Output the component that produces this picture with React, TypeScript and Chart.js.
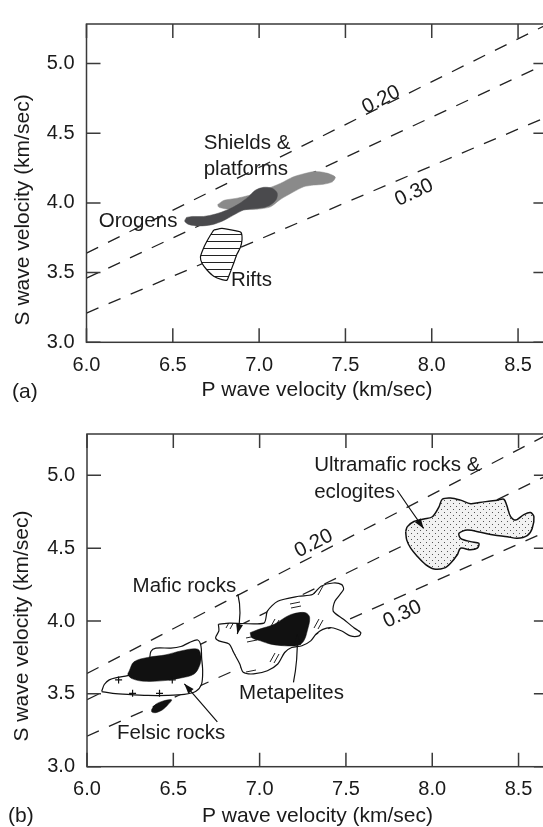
import React, { useEffect, useRef } from 'react';
import { Chart, registerables } from 'chart.js';

Chart.register(...registerables);

// ---------- axes ----------
const xTickValues = [6.0, 6.5, 7.0, 7.5, 8.0, 8.5];
const yTickValues = [3.0, 3.5, 4.0, 4.5, 5.0];
const xMin = 6.0;
const xMax = 8.67;
const yMin = 3.0;
const yMax = 5.284;
const xTitle = 'P wave velocity (km/sec)';
const yTitle = 'S wave velocity (km/sec)';

// ---------- constant Poisson's ratio lines (Vp, Vs) ----------
const poisson020: number[][] = [[6.0, 3.64], [8.7, 5.3]];
const poisson025: number[][] = [[6.0, 3.46], [8.7, 5.02]];
const poisson030: number[][] = [[6.0, 3.21], [8.7, 4.635]];

// ---------- panel (a) regions ----------
const shieldsPlatforms: number[][] = [
  [6.76, 3.988], [6.795, 4.018], [6.872, 4.034], [6.949, 4.057], [7.046, 4.102], [7.123, 4.14],
  [7.2, 4.188], [7.277, 4.215], [7.325, 4.226], [7.393, 4.214], [7.441, 4.186], [7.425, 4.152],
  [7.373, 4.134], [7.315, 4.128], [7.258, 4.116], [7.2, 4.08], [7.123, 4.025], [7.065, 3.972],
  [6.988, 3.955], [6.891, 3.952], [6.814, 3.956], [6.766, 3.97],
];
const orogens: number[][] = [
  [6.579, 3.896], [6.612, 3.903], [6.679, 3.903], [6.747, 3.92], [6.814, 3.949], [6.881, 3.992],
  [6.939, 4.045], [6.978, 4.091], [7.026, 4.112], [7.075, 4.105], [7.104, 4.073], [7.1, 4.027],
  [7.065, 3.986], [7.017, 3.965], [6.959, 3.958], [6.91, 3.949], [6.852, 3.913], [6.795, 3.874],
  [6.727, 3.844], [6.65, 3.835], [6.592, 3.846], [6.569, 3.869],
];
const rifts: number[][] = [
  [6.737, 3.805], [6.785, 3.817], [6.872, 3.798], [6.895, 3.789], [6.901, 3.736], [6.891, 3.679],
  [6.872, 3.633], [6.852, 3.565], [6.824, 3.474], [6.814, 3.446], [6.785, 3.45], [6.737, 3.474],
  [6.698, 3.519], [6.67, 3.565], [6.66, 3.611], [6.679, 3.679], [6.708, 3.748], [6.733, 3.798],
];

// ---------- panel (b) regions ----------
const felsicOutline: number[][] = [
  [6.085, 3.516], [6.1, 3.564], [6.129, 3.596], [6.178, 3.613], [6.236, 3.625], [6.284, 3.648],
  [6.341, 3.686], [6.361, 3.727], [6.37, 3.791], [6.399, 3.814], [6.486, 3.814], [6.544, 3.825],
  [6.592, 3.852], [6.641, 3.87], [6.66, 3.83], [6.664, 3.75], [6.67, 3.659], [6.664, 3.569],
  [6.631, 3.518], [6.563, 3.496], [6.467, 3.489], [6.351, 3.489], [6.236, 3.496], [6.149, 3.504],
];
const felsicCore: number[][] = [
  [6.245, 3.659], [6.272, 3.72], [6.351, 3.75], [6.457, 3.768], [6.544, 3.795], [6.641, 3.807],
  [6.66, 3.761], [6.654, 3.7], [6.621, 3.637], [6.544, 3.609], [6.447, 3.591], [6.332, 3.586],
  [6.264, 3.603], [6.237, 3.632],
];
const felsicPatch: number[][] = [
  [6.374, 3.391], [6.394, 3.425], [6.438, 3.45], [6.49, 3.459], [6.47, 3.427], [6.438, 3.391],
  [6.399, 3.371], [6.376, 3.375],
];
const felsicCrosses: number[][] = [[6.183, 3.596], [6.264, 3.504], [6.42, 3.504], [6.494, 3.596]];
const maficOutline: number[][] = [
  [6.761, 3.978], [6.825, 3.986], [7.025, 3.986], [7.045, 4.068], [7.105, 4.136], [7.226, 4.17],
  [7.306, 4.182], [7.356, 4.239], [7.426, 4.261], [7.476, 4.25], [7.486, 4.216], [7.436, 4.136],
  [7.426, 4.068], [7.486, 4.012], [7.546, 3.954], [7.586, 3.92], [7.576, 3.898], [7.526, 3.898],
  [7.476, 3.932], [7.416, 3.954], [7.366, 3.943], [7.326, 3.909], [7.296, 3.864], [7.245, 3.83],
  [7.186, 3.818], [7.145, 3.784], [7.105, 3.705], [7.045, 3.659], [6.965, 3.637], [6.905, 3.648],
  [6.885, 3.705], [6.865, 3.75], [6.845, 3.795], [6.825, 3.841], [6.764, 3.864], [6.745, 3.886],
  [6.764, 3.932],
];
const metapelites: number[][] = [
  [6.945, 3.92], [6.995, 3.943], [7.085, 3.978], [7.145, 4.023], [7.196, 4.05], [7.266, 4.057],
  [7.29, 4.023], [7.276, 3.932], [7.256, 3.864], [7.226, 3.834], [7.145, 3.83], [7.065, 3.841],
  [7.005, 3.864], [6.955, 3.886],
];
const ultramafic: number[][] = [
  [7.846, 4.614], [7.856, 4.648], [7.894, 4.683], [7.952, 4.7], [8.001, 4.716], [8.039, 4.784],
  [8.058, 4.836], [8.106, 4.845], [8.164, 4.83], [8.222, 4.806], [8.299, 4.818], [8.377, 4.83],
  [8.415, 4.836], [8.431, 4.796], [8.454, 4.716], [8.483, 4.693], [8.531, 4.731], [8.569, 4.745],
  [8.589, 4.716], [8.579, 4.636], [8.55, 4.586], [8.492, 4.568], [8.435, 4.579], [8.357, 4.591],
  [8.28, 4.609], [8.203, 4.625], [8.155, 4.602], [8.164, 4.568], [8.222, 4.545], [8.27, 4.534],
  [8.261, 4.5], [8.222, 4.489], [8.164, 4.5], [8.145, 4.455], [8.106, 4.397], [8.068, 4.363],
  [8.01, 4.357], [7.962, 4.387], [7.914, 4.443], [7.875, 4.5], [7.852, 4.557],
];

// ---------- annotations (data coordinates) ----------
const panelALabels = [
  { text: 'Shields &', x: 6.679, y: 4.43 },
  { text: 'platforms', x: 6.679, y: 4.241 },
  { text: 'Orogens', x: 6.071, y: 3.867 },
  { text: 'Rifts', x: 6.837, y: 3.441 },
];
const panelARatios = [
  { text: '0.20', x: 7.707, y: 4.739, angle: -27 },
  { text: '0.30', x: 7.898, y: 4.073, angle: -25 },
];
const panelBLabels = [
  { text: 'Ultramafic rocks &', x: 7.316, y: 5.07 },
  { text: 'eclogites', x: 7.316, y: 4.884 },
  { text: 'Mafic rocks', x: 6.264, y: 4.239 },
  { text: 'Metapelites', x: 6.881, y: 3.502 },
  { text: 'Felsic rocks', x: 6.174, y: 3.23 },
];
const panelBRatios = [
  { text: '0.20', x: 7.314, y: 4.532, angle: -27 },
  { text: '0.30', x: 7.827, y: 4.046, angle: -25 },
];
const panelBArrows = [
  { from: [7.797, 4.898], via: [7.87, 4.77], to: [7.95, 4.636] },
  { from: [6.874, 4.184], via: [6.9, 4.06], to: [6.871, 3.911] },
  { from: [7.196, 3.579], via: [7.222, 3.73], to: [7.218, 3.905] },
  { from: [6.755, 3.307], via: [6.66, 3.44], to: [6.564, 3.569] },
];

const FONT = '"Liberation Sans", Arial, Helvetica, sans-serif';
const TEXT = '#1a1a1a';
const TICK = 14;

const pts = (a: number[][], close = false) => {
  const p = a.map(([x, y]) => ({ x, y }));
  if (close) p.push({ ...p[0] });
  return p;
};

function makePattern(w: number, h: number, draw: (c: CanvasRenderingContext2D) => void) {
  const cv = document.createElement('canvas');
  cv.width = w;
  cv.height = h;
  const c = cv.getContext('2d')!;
  draw(c);
  return c.createPattern(cv, 'repeat')!;
}

function dashedSets() {
  return [poisson020, poisson025, poisson030].map((l) => ({
    data: pts(l),
    borderColor: '#222',
    borderWidth: 1.3,
    borderDash: [13, 11],
    pointRadius: 0,
    fill: false,
    tension: 0,
    order: 10,
  }));
}

function region(a: number[][], fillStyle: any, border: string, bw: number, order: number, tension = 0.35) {
  return {
    data: pts(a, true),
    backgroundColor: fillStyle,
    borderColor: border,
    borderWidth: bw,
    pointRadius: 0,
    fill: 'shape',
    tension,
    order,
  };
}

function overlay(opts: any) {
  return {
    id: 'overlay',
    afterDraw(chart: any) {
      const { ctx, chartArea: a, scales } = chart;
      const xs = scales.x;
      const ys = scales.y;
      const X = (v: number) => xs.getPixelForValue(v);
      const Y = (v: number) => ys.getPixelForValue(v);
      ctx.save();
      // frame and inward ticks
      ctx.strokeStyle = '#3a3a3a';
      ctx.lineWidth = 1.5;
      ctx.strokeRect(a.left, a.top, a.right - a.left, a.bottom - a.top);
      ctx.beginPath();
      for (const v of xTickValues) {
        const px = X(v);
        ctx.moveTo(px, a.bottom);
        ctx.lineTo(px, a.bottom - TICK);
        ctx.moveTo(px, a.top);
        ctx.lineTo(px, a.top + TICK);
      }
      for (const v of yTickValues) {
        const py = Y(v);
        ctx.moveTo(a.left, py);
        ctx.lineTo(a.left + TICK, py);
        ctx.moveTo(a.right, py);
        ctx.lineTo(a.right - TICK, py);
      }
      ctx.stroke();

      // arrows
      ctx.strokeStyle = '#111';
      ctx.fillStyle = '#111';
      ctx.lineWidth = 1.2;
      for (const ar of opts.arrows || []) {
        const fx = X(ar.from[0]), fy = Y(ar.from[1]);
        const cx = X(ar.via[0]), cy = Y(ar.via[1]);
        const tx = X(ar.to[0]), ty = Y(ar.to[1]);
        ctx.beginPath();
        ctx.moveTo(fx, fy);
        ctx.quadraticCurveTo(cx, cy, tx, ty);
        ctx.stroke();
        const ang = Math.atan2(ty - cy, tx - cx);
        const L = 10, W = 3.5;
        ctx.beginPath();
        ctx.moveTo(tx, ty);
        ctx.lineTo(tx - L * Math.cos(ang) + W * Math.sin(ang), ty - L * Math.sin(ang) - W * Math.cos(ang));
        ctx.lineTo(tx - L * Math.cos(ang) - W * Math.sin(ang), ty - L * Math.sin(ang) + W * Math.cos(ang));
        ctx.closePath();
        ctx.fill();
      }

      // labels
      ctx.fillStyle = TEXT;
      ctx.font = `20.5px ${FONT}`;
      ctx.textBaseline = 'middle';
      ctx.textAlign = 'left';
      for (const l of opts.labels) ctx.fillText(l.text, X(l.x), Y(l.y));
      for (const r of opts.ratios) {
        ctx.save();
        ctx.translate(X(r.x), Y(r.y));
        ctx.rotate((r.angle * Math.PI) / 180);
        ctx.textAlign = 'center';
        ctx.fillText(r.text, 0, 0);
        ctx.restore();
      }
      // y title
      ctx.font = `21px ${FONT}`;
      ctx.save();
      ctx.translate(opts.yTitleX, Y(opts.yTitleAt));
      ctx.rotate(-Math.PI / 2);
      ctx.textAlign = 'center';
      ctx.fillText(yTitle, 0, 0);
      ctx.restore();
      // panel letter
      ctx.textAlign = 'left';
      ctx.fillText(opts.letter, opts.letterX, opts.letterY);
      ctx.restore();
    },
  };
}

function makeConfig(p: any) {
  return {
    type: 'line',
    data: { datasets: p.datasets },
    options: {
      animation: false,
      responsive: false,
      events: [],
      layout: { padding: { left: 0, top: p.top, right: p.right, bottom: 0 } },
      plugins: { legend: { display: false }, tooltip: { enabled: false } },
      scales: {
        x: {
          type: 'linear',
          min: xMin,
          max: xMax,
          grid: { display: false, drawTicks: false },
          border: { display: false },
          ticks: {
            color: TEXT,
            padding: 11,
            font: { family: FONT, size: 20 },
            maxRotation: 0,
            autoSkip: false,
            callback: (v: any) => Number(v).toFixed(1),
          },
          title: {
            display: true,
            text: xTitle,
            color: TEXT,
            font: { family: FONT, size: 21, lineHeight: 1 },
            padding: { top: 0, bottom: p.titlePad },
          },
          afterBuildTicks: (s: any) => {
            s.ticks = xTickValues.map((value) => ({ value }));
          },
          afterFit: (s: any) => {
            s.height = p.xHeight;
          },
        },
        y: {
          type: 'linear',
          min: yMin,
          max: yMax,
          grid: { display: false, drawTicks: false },
          border: { display: false },
          ticks: {
            color: TEXT,
            padding: 12,
            font: { family: FONT, size: 20 },
            autoSkip: false,
            callback: (v: any) => Number(v).toFixed(1),
          },
          afterBuildTicks: (s: any) => {
            s.ticks = yTickValues.map((value) => ({ value }));
          },
          afterFit: (s: any) => {
            s.width = p.yWidth;
          },
        },
      },
    },
    plugins: [overlay(p.overlay)],
  } as any;
}

export default function App() {
  const refA = useRef<HTMLCanvasElement>(null);
  const refB = useRef<HTMLCanvasElement>(null);

  useEffect(() => {
    const hatch = makePattern(12, 7, (c) => {
      c.fillStyle = '#fff';
      c.fillRect(0, 0, 12, 7);
      c.strokeStyle = '#222';
      c.lineWidth = 1;
      c.beginPath();
      c.moveTo(0, 3.5);
      c.lineTo(12, 3.5);
      c.stroke();
    });
    const dots = makePattern(6, 6, (c) => {
      c.fillStyle = '#f2f2f2';
      c.fillRect(0, 0, 6, 6);
      c.fillStyle = '#555';
      c.fillRect(0, 0, 1, 1);
      c.fillRect(3, 3, 1, 1);
    });
    const dashes = makePattern(44, 34, (c) => {
      c.fillStyle = '#fff';
      c.fillRect(0, 0, 44, 34);
      c.strokeStyle = '#222';
      c.lineWidth = 1;
      c.beginPath();
      c.moveTo(6, 14); c.lineTo(11, 5);
      c.moveTo(10, 15); c.lineTo(15, 6);
      c.moveTo(26, 24); c.lineTo(36, 22);
      c.moveTo(27, 28); c.lineTo(37, 26);
      c.stroke();
    });

    const chartA = new Chart(
      refA.current!,
      makeConfig({
        top: 9.5,
        right: 560 - 547.4,
        xHeight: 410 - 342.3,
        yWidth: 86.5,
        titlePad: 8.8,
        datasets: [
          ...dashedSets(),
          region(shieldsPlatforms, '#8a8a8a', '#8a8a8a', 0.5, 6, 0.25),
          region(orogens, '#4a4a4d', '#4a4a4d', 0.5, 5, 0.3),
          region(rifts, hatch, '#111', 1.2, 5, 0.2),
        ],
        overlay: {
          labels: panelALabels,
          ratios: panelARatios,
          arrows: [],
          yTitleX: 23,
          yTitleAt: 3.95,
          letter: '(a)',
          letterX: 12,
          letterY: 392,
        },
      })
    );

    const chartB = new Chart(
      refB.current!,
      makeConfig({
        top: 21.7,
        right: 560 - 547.9,
        xHeight: 417 - 356.7,
        yWidth: 87,
        titlePad: 0,
        datasets: [
          ...dashedSets(),
          region(felsicOutline, '#ffffff', '#111', 1.2, 6, 0.3),
          region(felsicCore, '#111', '#111', 0.5, 5, 0.35),
          region(felsicPatch, '#111', '#111', 0.5, 5, 0.35),
          {
            data: pts(felsicCrosses),
            showLine: false,
            pointStyle: 'cross',
            pointRadius: 3.5,
            pointBorderWidth: 1.2,
            pointBorderColor: '#111',
            borderColor: '#111',
            order: 4,
          },
          region(maficOutline, dashes, '#111', 1.2, 6, 0.25),
          region(metapelites, '#111', '#111', 0.5, 5, 0.35),
          region(ultramafic, dots, '#111', 1.5, 6, 0.3),
        ],
        overlay: {
          labels: panelBLabels,
          ratios: panelBRatios,
          arrows: panelBArrows,
          yTitleX: 22,
          yTitleAt: 3.966,
          letter: '(b)',
          letterX: 8,
          letterY: 406,
        },
      })
    );

    return () => {
      chartA.destroy();
      chartB.destroy();
    };
  }, []);

  return (
    <div
      style={{
        position: 'absolute',
        left: 0,
        top: 0,
        width: 543,
        height: 827,
        overflow: 'hidden',
        background: '#fff',
      }}
    >
      <canvas ref={refA} width={560} height={410} style={{ position: 'absolute', left: 0, top: 0 }} />
      <canvas ref={refB} width={560} height={417} style={{ position: 'absolute', left: 0, top: 410 }} />
    </div>
  );
}
